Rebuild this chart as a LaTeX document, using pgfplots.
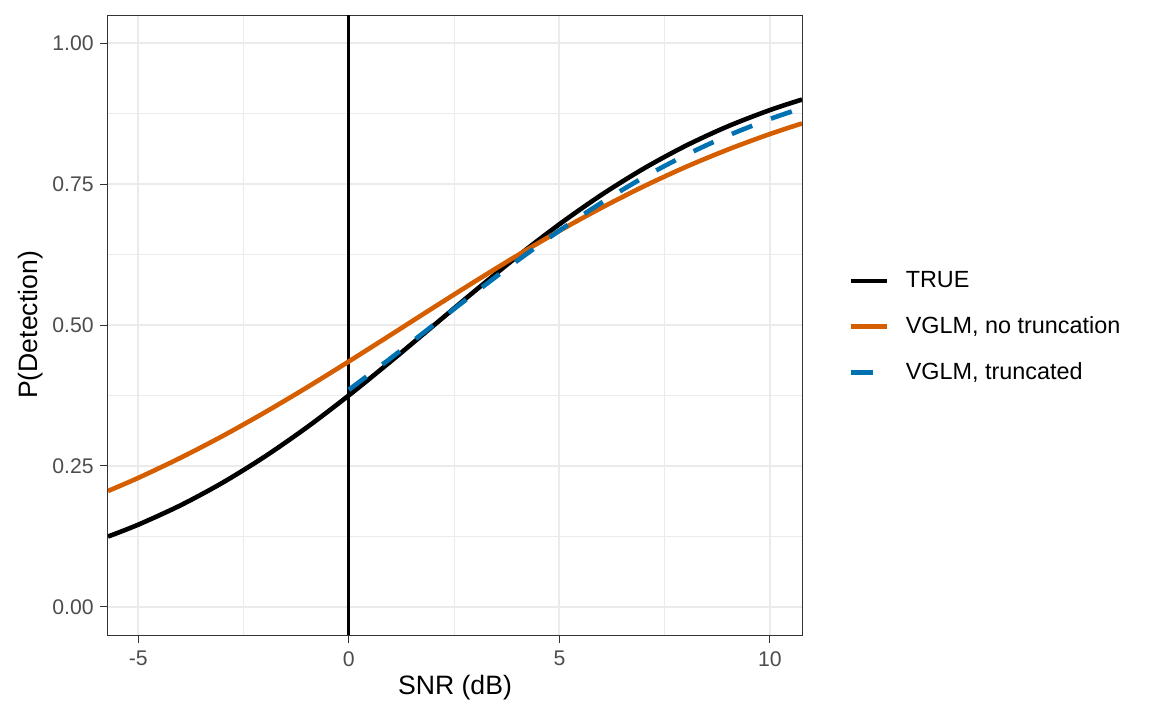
\documentclass[border=0pt]{standalone}
\usepackage{pgfplots}
\pgfplotsset{compat=1.18}
\usepackage{fontspec}
\setmainfont{Liberation Sans}
\definecolor{okorange}{HTML}{D55E00}
\definecolor{okblue}{HTML}{0072B2}
\definecolor{gridgray}{HTML}{EBEBEB}
\definecolor{tickgray}{HTML}{4D4D4D}
\definecolor{bordergray}{HTML}{333333}
\begin{document}
\begin{tikzpicture}
\useasboundingbox (0,0) rectangle (576pt,360pt);
\begin{axis}[
  at={(54pt,42.5pt)}, anchor=south west,
  scale only axis, width=347pt, height=310pt,
  xmin=-5.72, xmax=10.76, ymin=-0.05, ymax=1.05,
  axis line style={draw=bordergray, line width=0.5pt},
  xtick={-5,0,5,10}, xticklabels={-5,0,5,10},
  ytick={0,0.25,0.5,0.75,1}, yticklabels={0.00,0.25,0.50,0.75,1.00},
  minor xtick={-2.5,2.5,7.5}, minor ytick={0.125,0.375,0.625,0.875},
  grid=both,
  major grid style={draw=gridgray, line width=1pt},
  minor grid style={draw=gridgray, line width=0.5pt},
  tick align=outside, tick pos=left,
  major tick length=4pt, minor tick length=0pt,
  major tick style={draw=bordergray, line width=0.5pt},
  ticklabel style={font=\fontsize{10.6}{12}\selectfont, text=tickgray},
  xticklabel style={inner sep=0pt, anchor=north, yshift=-4pt},
  yticklabel style={inner sep=0pt, anchor=east, xshift=-3pt},
  xlabel={SNR (dB)}, ylabel={P(Detection)},
  every axis x label/.style={at={(axis description cs:0.5,-0.0855)}, anchor=center,
    font=\fontsize{13.3}{15}\selectfont},
  every axis y label/.style={at={(axis description cs:-0.1122,0.5)}, anchor=center, rotate=90,
    font=\fontsize{13.3}{15}\selectfont},
  legend style={at={(axis description cs:1.066,0.497)}, anchor=west, draw=none, fill=none,
    inner sep=0pt, font=\fontsize{11.7}{14}\selectfont, row sep=9pt},
  legend cell align=left,
  legend image code/.code={\draw[#1] (0pt,0pt) -- (18pt,0pt); \path (24.5pt,0pt);},
  clip=true,
]
\addplot[forget plot, black, line width=1.6pt] coordinates {(0,-0.05) (0,1.05)};
\addplot[black, line width=2.3pt, smooth] coordinates {
(-5.72,0.1247) (-5,0.1458) (-4,0.1800) (-3,0.2202) (-2,0.2664) (-1,0.3183)
(0,0.3752) (1,0.4358) (2,0.4983) (3,0.5609) (4,0.6216) (5,0.6788)
(6,0.7310) (7,0.7775) (8,0.8180) (9,0.8525) (10,0.8814) (10.76,0.9000)};
\addlegendentry{TRUE}
\addplot[okorange, line width=2.3pt, smooth] coordinates {
(-5.72,0.2055) (-5,0.2288) (-4,0.2643) (-3,0.3030) (-2,0.3448) (-1,0.3891)
(0,0.4354) (1,0.4828) (2,0.5305) (3,0.5776) (4,0.6234) (5,0.6671)
(6,0.7080) (7,0.7459) (8,0.7804) (9,0.8113) (10,0.8389) (10.76,0.8576)};
\addlegendentry{VGLM, no truncation}
\addplot[okblue, line width=2.3pt, smooth, dash pattern=on 11pt off 10pt] coordinates {
(0,0.3851) (1,0.4415) (2,0.4995) (3,0.5575) (4,0.6140) (5,0.6675)
(6,0.7170) (7,0.7619) (8,0.8015) (9,0.8360) (10,0.8655) (10.76,0.8848)};
\addlegendentry{VGLM, truncated}
\end{axis}
\end{tikzpicture}
\end{document}
